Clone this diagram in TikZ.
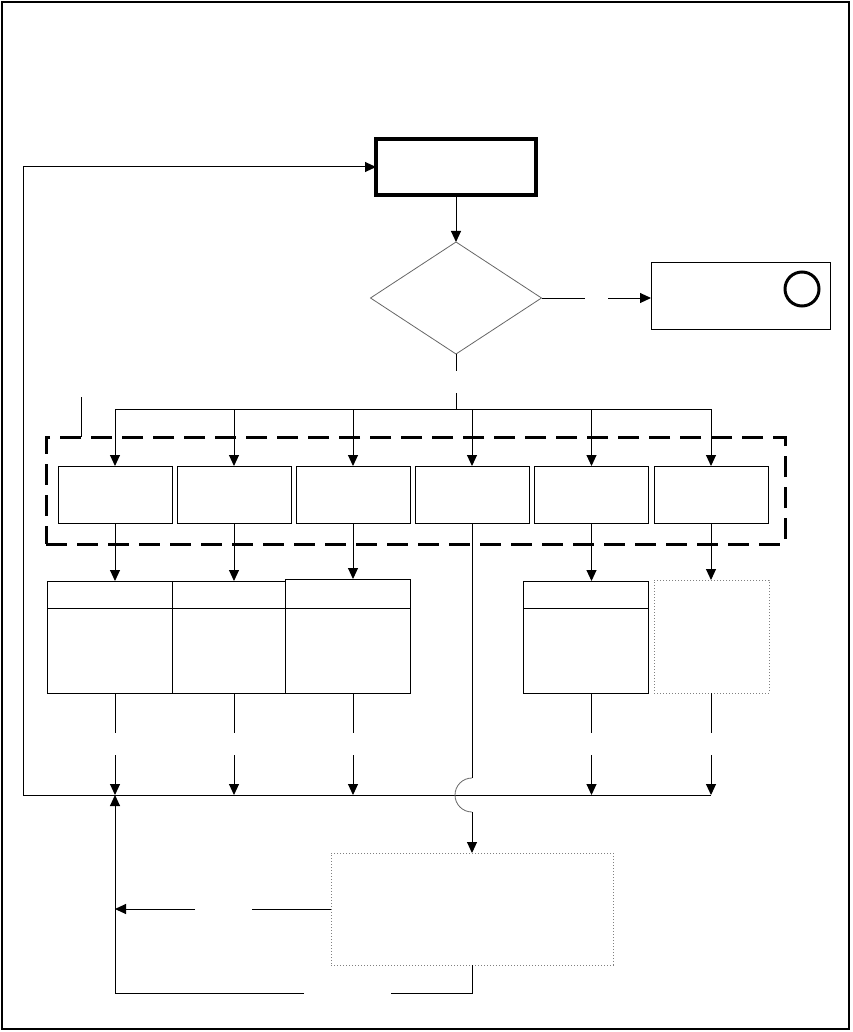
\documentclass[tikz,border=0pt]{standalone}
\usetikzlibrary{arrows.meta,shapes.geometric,calc}
\begin{document}
\begin{tikzpicture}[x=1pt,y=-1pt,
  every node/.style={inner sep=0pt,outer sep=0pt},
  ln/.style={line width=1pt,black},
  arr/.style={ln,-{Triangle[length=11pt,width=10pt]}},
  box/.style={draw,line width=1pt,rectangle},
  thickbox/.style={draw,line width=3.5pt,rectangle},
  dotbox/.style={draw=gray,dotted,line width=1pt,rectangle},
  dia/.style={draw=gray!80!black,line width=0.8pt,diamond},
  grp/.style={draw,line width=3pt,dash pattern=on 21pt off 10pt},
  jump/.style={draw=gray!80!black,line width=0.8pt}]
\useasboundingbox (0,0) rectangle (852,1032);
\draw[line width=1.5pt] (2,2) rectangle (849,1029);

% top
\node[thickbox,minimum width=160pt,minimum height=56pt] (T) at (456,167) {};
\node[dia,minimum width=171pt,minimum height=112pt] (D) at (456,298) {};
\node[box,minimum width=179pt,minimum height=67pt] (R) at (740.5,296) {};
\node[draw,circle,line width=3pt,minimum size=34pt] (C) at (802,289) {};

\draw[arr] (T.south) -- (D.north);
\coordinate (r1) at (585,298);
\coordinate (r2) at (608,298);
\draw[ln] (D.east) -- (r1);
\draw[arr] (r2) -- (R.west |- r2);

% group
\node[grp,rectangle,minimum width=739pt,minimum height=107pt] (G) at (415.5,490.5) {};
\coordinate (g1) at (81,397);
\draw[ln] (g1) -- (g1 |- G.north);

% row boxes
\foreach \n/\x in {B1/115,B2/234,B3/353,B4/472,B5/591.5,B6/711}{
  \node[box,minimum width=114pt,minimum height=57pt] (\n) at (\x,494.5) {};
}
% bus
\coordinate (d1) at (456,371);
\coordinate (d2) at (456,393);
\coordinate (busL) at (115,409);
\coordinate (busR) at (711,409);
\draw[ln] (D.south) -- (d1);
\draw[ln] (d2) -- (d2 |- busL);
\draw[ln] (busL) -- (busR);
\foreach \n in {B1,B2,B3,B4,B5,B6}{
  \draw[arr] (\n.north |- busL) -- (\n.north);
}

% lower boxes
\node[box,minimum width=125pt,minimum height=112pt] (LA) at (109.5,637) {};
\node[box,minimum width=113pt,minimum height=112pt] (LB) at (228.5,637) {};
\node[box,minimum width=125pt,minimum height=114pt] (LC) at (347.5,636) {};
\node[box,minimum width=125pt,minimum height=112pt] (LD) at (585.5,637) {};
\node[dotbox,minimum width=115pt,minimum height=113pt] (LE) at (711.5,636.5) {};
\draw[ln] (LA.west |- 0,608) -- (LC.east |- 0,608);
\draw[ln] (LD.west |- 0,608) -- (LD.east |- 0,608);

\draw[arr] (B1.south) -- (B1.south |- LA.north);
\draw[arr] (B2.south) -- (B2.south |- LB.north);
\draw[arr] (B3.south) -- (B3.south |- LC.north);
\draw[arr] (B5.south) -- (B5.south |- LD.north);
\draw[arr] (B6.south) -- (B6.south |- LE.north);

% bottom bus and feedback
\coordinate (fbB) at (23,795);
\coordinate (fbT) at (23,167);
\coordinate (bus2R) at (711,795);
\draw[ln] (bus2R) -- (fbB) -- (fbT);
\draw[arr] (fbT) -- (T.west);
\foreach \n/\lb in {B1/LA,B2/LB,B3/LC,B5/LD,B6/LE}{
  \draw[ln] (\n.south |- \lb.south) -- ($(\n.south |- \lb.south)+(0,40)$);
  \draw[arr] (\n.south |- 0,755) -- (\n.south |- fbB);
}

% bottom box
\node[dotbox,minimum width=282pt,minimum height=112pt] (BB) at (472,909) {};
\coordinate (j1) at (472,778);
\coordinate (j2) at (472,812);
\draw[ln] (B4.south) -- (j1);
\draw[jump] (j1) arc[start angle=-90,end angle=-270,radius=17];
\draw[arr] (j2) -- (j2 |- BB.north);

\coordinate (la1) at (252,909);
\coordinate (la2) at (195,909);
\coordinate (la3) at (115,909);
\draw[ln] (BB.west) -- (la1);
\draw[arr] (la2) -- (la3);

\coordinate (bl0) at (472,993);
\coordinate (bl1) at (391,993);
\coordinate (bl2) at (304,993);
\coordinate (bl3) at (115,993);
\draw[ln] (BB.south) -- (bl0) -- (bl1);
\draw[ln] (bl2) -- (bl3);
\draw[arr] (bl3) -- (bl3 |- fbB);
\end{tikzpicture}
\end{document}
